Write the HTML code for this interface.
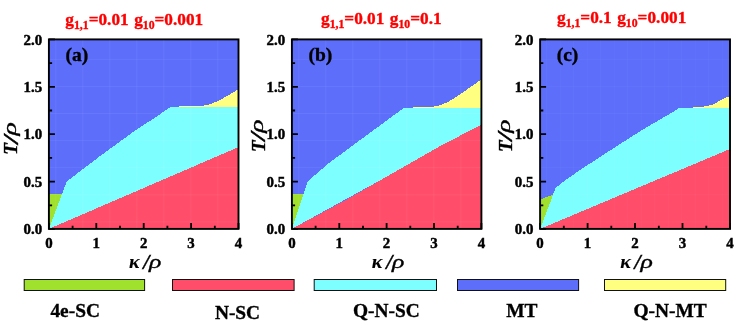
<!DOCTYPE html>
<html><head><meta charset="utf-8"><title>Phase diagrams</title>
<style>
html,body{margin:0;padding:0;background:#fff;}
body{width:747px;height:326px;overflow:hidden;}
svg{display:block;will-change:transform;}
text{font-family:"Liberation Serif",serif;font-weight:bold;fill:#000;stroke:#000;stroke-width:0.35px;}
.tk{font-size:14.9px;stroke-width:0.45px;}
.ttl{font-size:17.6px;fill:#FF0000;stroke:#FF0000;}
.lg{font-size:19.4px;}
.pl{font-size:19.5px;}
.ax{font-size:19px;font-style:italic;}
</style></head><body>
<svg width="747" height="326" viewBox="0 0 747 326">
<rect width="747" height="326" fill="#fff"/>

<g shape-rendering="crispEdges">
<rect x="48.9" y="39.4" width="189.6" height="189.5" fill="#5C6EFA"/>
<polygon points="48.9,228.9 61.9,194.2 66.6,181.6 100.0,156.1 118.4,142.7 136.8,129.4 155.2,117.5 170.2,107.1 238.5,107.1 238.5,147.1" fill="#7DFFFF"/>
<polygon points="48.9,228.9 48.9,194.2 61.9,194.2" fill="#A0E12D"/>
<polygon points="178.7,107.1 178.7,106.1 200.8,106.0 206.6,105.2 210.5,104.2 218.2,100.9 227.8,95.6 238.5,89.3 238.5,107.1" fill="#FFFF80"/>
<polygon points="48.9,228.9 238.5,147.1 238.5,228.9" fill="#FF4D6A"/>
</g><g>
<path d="M55.8 39.4V228.95M82.8 39.4V228.95M109.8 39.4V228.95M136.8 39.4V228.95M163.8 39.4V228.95M190.8 39.4V228.95M217.8 39.4V228.95M48.9 59.3H238.5M48.9 86.4H238.5M48.9 113.5H238.5M48.9 140.6H238.5M48.9 167.7H238.5M48.9 194.8H238.5M48.9 221.9H238.5" stroke="#fff" stroke-opacity="0.065" stroke-width="1" fill="none"/>
<path d="M48.9 228.9h6.0M48.9 205.3h3.2M48.9 181.6h6.0M48.9 157.9h3.2M48.9 134.2h6.0M48.9 110.5h3.2M48.9 86.8h6.0M48.9 63.1h3.2M48.9 39.4h6.0M48.9 228.95v-6.0M72.6 228.95v-3.2M96.3 228.95v-6.0M120.0 228.95v-3.2M143.7 228.95v-6.0M167.4 228.95v-3.2M191.1 228.95v-6.0M214.8 228.95v-3.2M238.5 228.95v-6.0" stroke="#000" stroke-width="1.8" fill="none"/>
<rect x="48.9" y="39.4" width="189.6" height="189.5" fill="none" stroke="#000" stroke-width="1.9"/>
<text class="tk" x="42.2" y="234.1" text-anchor="end">0.0</text>
<text class="tk" x="42.2" y="186.8" text-anchor="end">0.5</text>
<text class="tk" x="42.2" y="139.4" text-anchor="end">1.0</text>
<text class="tk" x="42.2" y="92.0" text-anchor="end">1.5</text>
<text class="tk" x="42.2" y="44.6" text-anchor="end">2.0</text>
<text class="tk" x="48.9" y="248.0" text-anchor="middle">0</text>
<text class="tk" x="96.3" y="248.0" text-anchor="middle">1</text>
<text class="tk" x="143.7" y="248.0" text-anchor="middle">2</text>
<text class="tk" x="191.1" y="248.0" text-anchor="middle">3</text>
<text class="tk" x="238.5" y="248.0" text-anchor="middle">4</text>
<text class="pl" x="65.5" y="61.0">(a)</text>
<text class="ax" x="128.9" y="268.1" style="font-size:17.8px;stroke-width:0.1px" transform="translate(128.5,0) scale(1.12,1) translate(-128.5,0)">κ</text>
<text class="ax" x="143.3" y="268.6" style="font-size:22px">/</text>
<text class="ax" x="149.1" y="267.6" style="font-weight:normal;font-size:19.5px" transform="translate(149.1,0) scale(1.32,1) translate(-149.1,0)">ρ</text>
<g transform="translate(17.4,153.4) rotate(-90)"><text class="ax" x="-1.4" y="0">T</text><text class="ax" x="10.0" y="0.4" style="font-size:21px" transform="translate(10,0) scale(1.38,1) translate(-10,0)">/</text><text class="ax" x="17.9" y="-1.7" style="font-weight:normal;font-size:19.5px" transform="translate(17.9,0) scale(1.42,1) translate(-17.9,0)">ρ</text></g>
<text class="ttl" transform="translate(65.3,25.2) scale(0.981,1)" word-spacing="1.2">g<tspan font-size="12" dy="4.0">1,1</tspan><tspan dy="-4.0">=0.01 g</tspan><tspan font-size="12" dy="4.0">10</tspan><tspan dy="-4.0">=0.001</tspan></text>
</g>
<g shape-rendering="crispEdges">
<rect x="291.9" y="39.4" width="189.5" height="189.5" fill="#5C6EFA"/>
<polygon points="291.9,228.9 303.5,194.2 307.9,181.2 330.7,161.6 340.0,154.9 361.4,139.1 392.1,116.5 400.0,110.8 404.8,107.6 481.4,107.6 481.4,124.6" fill="#7DFFFF"/>
<polygon points="291.9,228.9 291.9,194.2 303.5,194.2" fill="#A0E12D"/>
<polygon points="412.9,107.6 412.9,106.6 434.4,106.5 440.5,105.1 449.1,101.4 461.3,93.5 473.6,84.9 481.4,79.3 481.4,107.6" fill="#FFFF80"/>
<polygon points="291.9,228.9 346.0,199.8 440.0,146.2 481.4,124.6 481.4,228.9" fill="#FF4D6A"/>
</g><g>
<path d="M298.8 39.4V228.95M325.8 39.4V228.95M352.8 39.4V228.95M379.8 39.4V228.95M406.8 39.4V228.95M433.8 39.4V228.95M460.8 39.4V228.95M291.9 59.3H481.4M291.9 86.4H481.4M291.9 113.5H481.4M291.9 140.6H481.4M291.9 167.7H481.4M291.9 194.8H481.4M291.9 221.9H481.4" stroke="#fff" stroke-opacity="0.065" stroke-width="1" fill="none"/>
<path d="M291.9 228.9h6.0M291.9 205.3h3.2M291.9 181.6h6.0M291.9 157.9h3.2M291.9 134.2h6.0M291.9 110.5h3.2M291.9 86.8h6.0M291.9 63.1h3.2M291.9 39.4h6.0M291.9 228.95v-6.0M315.6 228.95v-3.2M339.3 228.95v-6.0M363.0 228.95v-3.2M386.6 228.95v-6.0M410.3 228.95v-3.2M434.0 228.95v-6.0M457.7 228.95v-3.2M481.4 228.95v-6.0" stroke="#000" stroke-width="1.8" fill="none"/>
<rect x="291.9" y="39.4" width="189.5" height="189.5" fill="none" stroke="#000" stroke-width="1.9"/>
<text class="tk" x="285.2" y="234.1" text-anchor="end">0.0</text>
<text class="tk" x="285.2" y="186.8" text-anchor="end">0.5</text>
<text class="tk" x="285.2" y="139.4" text-anchor="end">1.0</text>
<text class="tk" x="285.2" y="92.0" text-anchor="end">1.5</text>
<text class="tk" x="285.2" y="44.6" text-anchor="end">2.0</text>
<text class="tk" x="291.9" y="248.0" text-anchor="middle">0</text>
<text class="tk" x="339.3" y="248.0" text-anchor="middle">1</text>
<text class="tk" x="386.6" y="248.0" text-anchor="middle">2</text>
<text class="tk" x="434.0" y="248.0" text-anchor="middle">3</text>
<text class="tk" x="481.4" y="248.0" text-anchor="middle">4</text>
<text class="pl" x="308.5" y="61.0">(b)</text>
<text class="ax" x="371.8" y="268.1" style="font-size:17.8px;stroke-width:0.1px" transform="translate(371.4,0) scale(1.12,1) translate(-371.4,0)">κ</text>
<text class="ax" x="386.2" y="268.6" style="font-size:22px">/</text>
<text class="ax" x="392.0" y="267.6" style="font-weight:normal;font-size:19.5px" transform="translate(392.0,0) scale(1.32,1) translate(-392.0,0)">ρ</text>
<g transform="translate(264.6,150.6) rotate(-90)"><text class="ax" x="-1.4" y="0">T</text><text class="ax" x="10.0" y="0.4" style="font-size:21px" transform="translate(10,0) scale(1.38,1) translate(-10,0)">/</text><text class="ax" x="17.9" y="-1.7" style="font-weight:normal;font-size:19.5px" transform="translate(17.9,0) scale(1.42,1) translate(-17.9,0)">ρ</text></g>
<text class="ttl" transform="translate(321.0,24.1) scale(0.981,1)" word-spacing="1.2">g<tspan font-size="12" dy="4.0">1,1</tspan><tspan dy="-4.0">=0.01 g</tspan><tspan font-size="12" dy="4.0">10</tspan><tspan dy="-4.0">=0.1</tspan></text>
</g>
<g shape-rendering="crispEdges">
<rect x="540.1" y="39.4" width="189.9" height="189.5" fill="#5C6EFA"/>
<polygon points="540.1,228.9 553.2,194.2 555.6,188.0 566.4,179.3 584.8,166.9 611.4,149.6 642.1,130.0 672.8,112.0 678.8,108.3 730.0,108.3 730.0,149.0" fill="#7DFFFF"/>
<polygon points="540.1,228.9 540.1,199.4 553.2,194.6" fill="#A0E12D"/>
<polygon points="692.7,108.3 692.7,107.3 701.6,106.8 707.6,106.0 713.5,104.3 719.5,100.8 724.4,98.4 730.0,95.9 730.0,108.3" fill="#FFFF80"/>
<polygon points="540.1,228.9 730.0,149.0 730.0,228.9" fill="#FF4D6A"/>
</g><g>
<path d="M546.7 39.4V228.95M560.2 39.4V228.95M573.7 39.4V228.95M587.2 39.4V228.95M600.7 39.4V228.95M614.2 39.4V228.95M627.7 39.4V228.95M641.2 39.4V228.95M654.7 39.4V228.95M668.2 39.4V228.95M681.7 39.4V228.95M695.2 39.4V228.95M708.7 39.4V228.95M722.2 39.4V228.95M540.1 59.3H730.0M540.1 86.4H730.0M540.1 113.5H730.0M540.1 140.6H730.0M540.1 167.7H730.0M540.1 194.8H730.0M540.1 221.9H730.0" stroke="#fff" stroke-opacity="0.035" stroke-width="1" fill="none"/>
<path d="M540.1 228.9h6.0M540.1 205.3h3.2M540.1 181.6h6.0M540.1 157.9h3.2M540.1 134.2h6.0M540.1 110.5h3.2M540.1 86.8h6.0M540.1 63.1h3.2M540.1 39.4h6.0M540.1 228.95v-6.0M563.8 228.95v-3.2M587.6 228.95v-6.0M611.3 228.95v-3.2M635.0 228.95v-6.0M658.8 228.95v-3.2M682.5 228.95v-6.0M706.3 228.95v-3.2M730.0 228.95v-6.0" stroke="#000" stroke-width="1.8" fill="none"/>
<rect x="540.1" y="39.4" width="189.9" height="189.5" fill="none" stroke="#000" stroke-width="1.9"/>
<text class="tk" x="533.4" y="234.1" text-anchor="end">0.0</text>
<text class="tk" x="533.4" y="186.8" text-anchor="end">0.5</text>
<text class="tk" x="533.4" y="139.4" text-anchor="end">1.0</text>
<text class="tk" x="533.4" y="92.0" text-anchor="end">1.5</text>
<text class="tk" x="533.4" y="44.6" text-anchor="end">2.0</text>
<text class="tk" x="540.1" y="248.0" text-anchor="middle">0</text>
<text class="tk" x="587.6" y="248.0" text-anchor="middle">1</text>
<text class="tk" x="635.0" y="248.0" text-anchor="middle">2</text>
<text class="tk" x="682.5" y="248.0" text-anchor="middle">3</text>
<text class="tk" x="730.0" y="248.0" text-anchor="middle">4</text>
<text class="pl" x="556.7" y="61.0">(c)</text>
<text class="ax" x="620.2" y="268.1" style="font-size:17.8px;stroke-width:0.1px" transform="translate(619.8,0) scale(1.12,1) translate(-619.8,0)">κ</text>
<text class="ax" x="634.6" y="268.6" style="font-size:22px">/</text>
<text class="ax" x="640.4" y="267.6" style="font-weight:normal;font-size:19.5px" transform="translate(640.4,0) scale(1.32,1) translate(-640.4,0)">ρ</text>
<g transform="translate(511.9,150.6) rotate(-90)"><text class="ax" x="-1.4" y="0">T</text><text class="ax" x="10.0" y="0.4" style="font-size:21px" transform="translate(10,0) scale(1.38,1) translate(-10,0)">/</text><text class="ax" x="17.9" y="-1.7" style="font-weight:normal;font-size:19.5px" transform="translate(17.9,0) scale(1.42,1) translate(-17.9,0)">ρ</text></g>
<text class="ttl" transform="translate(557.0,22.8) scale(0.981,1)" word-spacing="1.2">g<tspan font-size="12" dy="4.0">1,1</tspan><tspan dy="-4.0">=0.1 g</tspan><tspan font-size="12" dy="4.0">10</tspan><tspan dy="-4.0">=0.001</tspan></text>
</g>
<rect x="24.2" y="279.5" width="120.4" height="11.0" fill="#A0E12D" stroke="#111" stroke-width="1.0"/>
<text class="lg" x="75.2" y="317.2" text-anchor="middle">4e-SC</text>
<rect x="172.5" y="279.5" width="121.6" height="11.0" fill="#FF4D6A" stroke="#111" stroke-width="1.0"/>
<text class="lg" x="237.5" y="319.2" text-anchor="middle">N-SC</text>
<rect x="314.2" y="279.5" width="122.3" height="11.0" fill="#7DFFFF" stroke="#111" stroke-width="1.0"/>
<text class="lg" x="386.3" y="317.2" text-anchor="middle">Q-N-SC</text>
<rect x="457.5" y="279.5" width="121.1" height="11.0" fill="#5C6EFA" stroke="#111" stroke-width="1.0"/>
<text class="lg" x="521.9" y="317.2" text-anchor="middle">MT</text>
<rect x="604.5" y="279.5" width="121.2" height="11.0" fill="#FFFF80" stroke="#111" stroke-width="1.0"/>
<text class="lg" x="670.0" y="317.2" text-anchor="middle">Q-N-MT</text>
</svg></body></html>
